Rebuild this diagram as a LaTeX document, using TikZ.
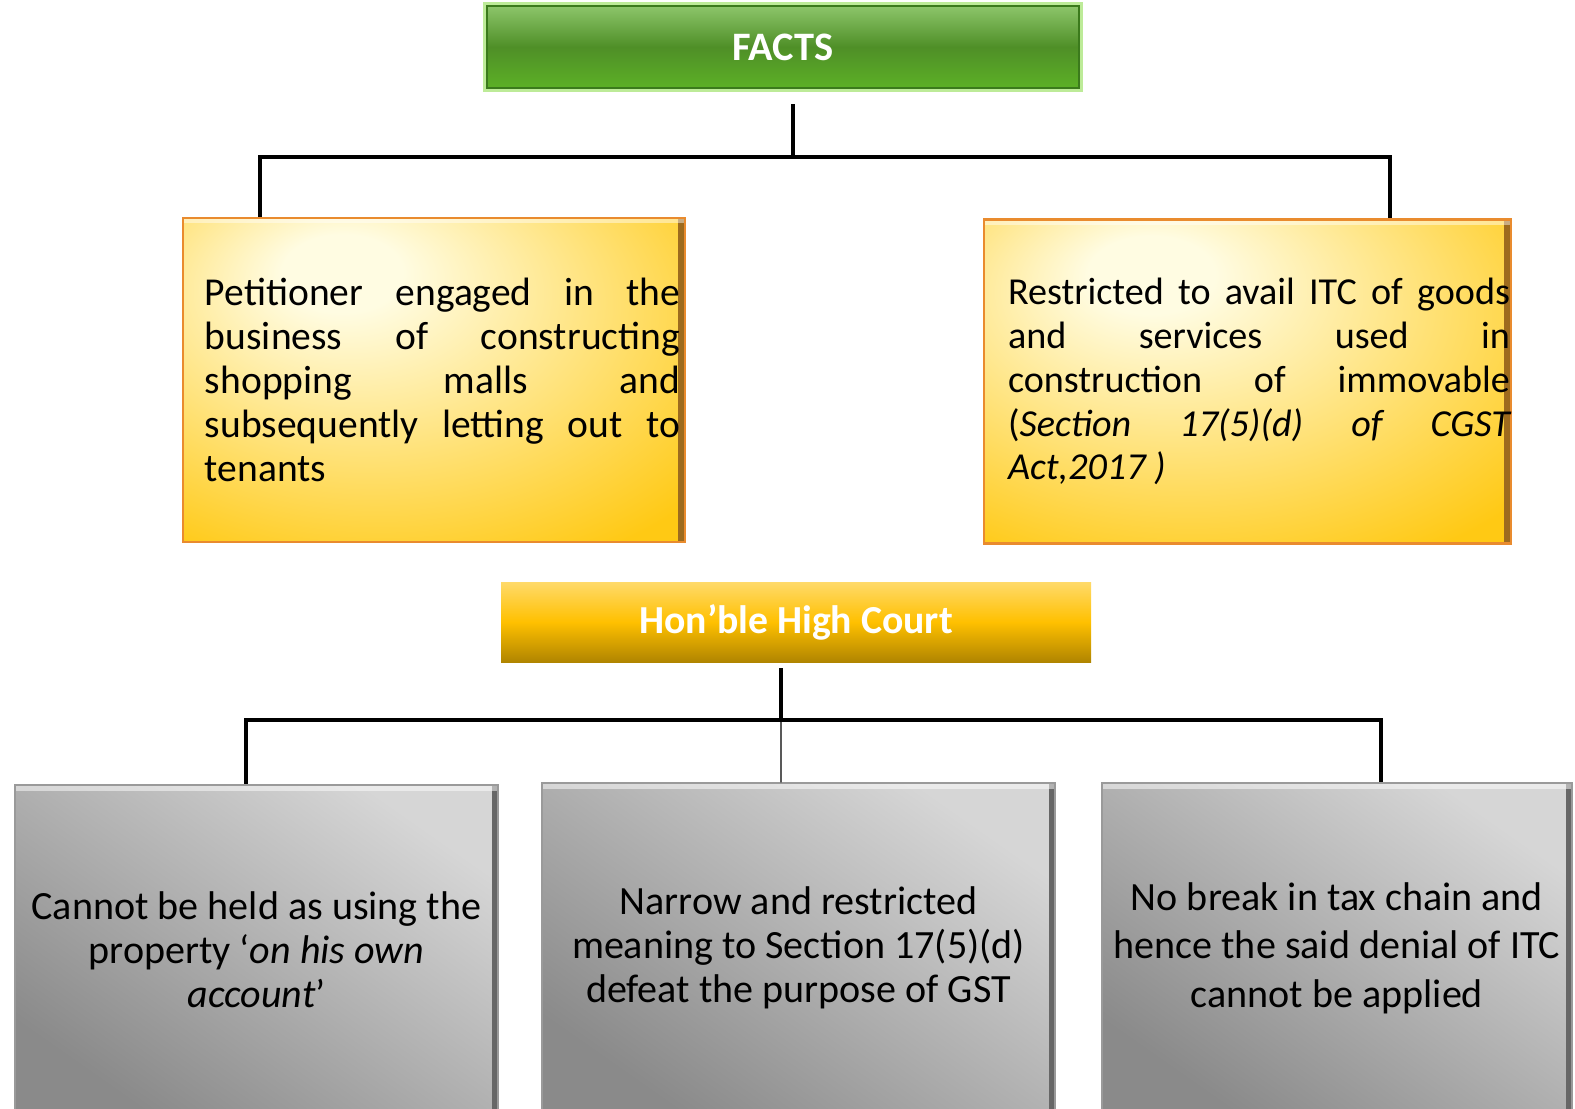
\documentclass[tikz,border=0pt]{standalone}
\usepackage{fontspec}
\setmainfont{Carlito}
\usetikzlibrary{positioning,calc}
\usepackage{xcolor}
\definecolor{gtop}{HTML}{8CC56A}
\definecolor{gmid}{HTML}{4F8F27}
\definecolor{gbot}{HTML}{5CB026}
\definecolor{gline}{HTML}{3B7A1C}
\definecolor{gglow}{HTML}{BDEB98}
\definecolor{ylight}{HTML}{FFFCE2}
\definecolor{ygold}{HTML}{FFC914}
\definecolor{yline}{HTML}{E98B2E}
\definecolor{yedge}{HTML}{9C6A1E}
\definecolor{ctop}{HTML}{FFDA6A}
\definecolor{cmid}{HTML}{FFC000}
\definecolor{cbot}{HTML}{B08500}
\definecolor{glight}{HTML}{D6D6D6}
\definecolor{gdark}{HTML}{8A8A8A}
\definecolor{gedge}{HTML}{9A9A9A}
\pgfdeclareradialshading{yglow}{\pgfpoint{-10bp}{18bp}}{%
  color(0bp)=(ylight); color(6bp)=(ylight);
  color(40bp)=(ygold); color(70bp)=(ygold)}
\newcommand{\nohyph}{\hyphenpenalty=10000\exhyphenpenalty=10000\tolerance=9999\relax}
% justified block pushed right inside its box
\newcommand{\facttext}[3]{\hspace*{#1}\parbox{#2}{\nohyph#3}}
\tikzset{
    headbox/.style={
        draw=#1,line width=1.2pt,
        preaction={draw=gglow,line width=4pt},
        top color=gtop,bottom color=gbot,middle color=gmid,
        text=white,font=\fontsize{23}{27}\selectfont\bfseries,
        minimum width=118.4mm,minimum height=16.4mm
    },
    headbox/.default=gline,
    factbox/.style={
        draw=yline,line width=1.4pt,shading=yglow,
        inner xsep=0.2mm,
        font=\fontsize{22.5}{25}\selectfont,
        minimum width=#1,minimum height=64.8mm,
        path picture={
            \shade[left color=ygold,right color=yedge]
            ([xshift=-1.4mm]path picture bounding box.north east)
            rectangle (path picture bounding box.south east);
            \fill[white,opacity=.45]
            (path picture bounding box.north west)
            rectangle ([yshift=-1mm]path picture bounding box.north east);}
    },
    courtbox/.style={
        top color=ctop,bottom color=cbot,middle color=cmid,
        text=white,font=\fontsize{22.6}{26}\selectfont\bfseries,
        minimum width=118mm,minimum height=16mm
    },
    findbox/.style={
        draw=gedge,line width=0.8pt,
        top color=glight,bottom color=gdark,shading angle=-35,
        align=center,font=\fontsize{22.8}{25}\selectfont,
        minimum width=#1,minimum height=66mm,
        path picture={
            \shade[left color=black!30,right color=black!60]
            ([xshift=-1.2mm]path picture bounding box.north east)
            rectangle (path picture bounding box.south east);
            \fill[white,opacity=.5]
            (path picture bounding box.north west)
            rectangle ([yshift=-1.2mm]path picture bounding box.north east);}
    },
    link/.style={line width=2.4pt,draw=black},
    thin link/.style={line width=0.8pt,draw=black}
}

\begin{document}
\begin{tikzpicture}[x=0.2mm,y=-0.2mm]
\useasboundingbox (0,0) rectangle (1575,1108);
\clip (0,0) rectangle (1575,1108);

\node[headbox](facts) at (783,47) {FACTS};

\node[factbox=100.4mm](petition) at (434,380)
{\facttext{3.4mm}{95mm}{Petitioner engaged in the\linebreak business of constructing\linebreak
shopping malls and\linebreak subsequently letting out to\linebreak tenants}};

\node[factbox=105.4mm,font=\fontsize{21.7}{25}\selectfont](restrict) at (1247.5,381.5)
{\facttext{4.6mm}{100.4mm}{Restricted to avail ITC of goods\linebreak and services used in\linebreak
construction of immovable\linebreak (\textit{Section 17(5)(d) of CGST\linebreak Act,2017 )}}};

\node[courtbox](court) at (796,622) {Hon’ble High Court};

\node[findbox=96.6mm](find1) at (256.5,950)
{Cannot be held as using the\\ property ‘\textit{on his own}\\ \textit{account}’};
\node[findbox=102.6mm](find2) at (798.5,948)
{Narrow and restricted\\ meaning to Section 17(5)(d)\\ defeat the purpose of GST};
\node[findbox=94mm,font=\fontsize{22.8}{27.5}\selectfont](find3) at (1337,948)
{No break in tax chain and\\ hence the said denial of ITC\\ cannot be applied};

% facts tree
\coordinate (fk1) at (793,157);
\draw[link] ([yshift=-3mm]facts.south -| fk1) -- (fk1);
\draw[link] (fk1) -| ([xshift=-34.8mm]petition.north);
\draw[link] (fk1) -| ([xshift=28.5mm]restrict.north);

% court tree
\coordinate (fk2) at (781,720);
\draw[link] ([yshift=-1.2mm]court.south -| fk2) -- (fk2);
\draw[link] (fk2) -| ([xshift=-2.1mm]find1.north);
\draw[link] (fk2) -| ([xshift=8.8mm]find3.north);
\draw[thin link] (fk2) -- ([xshift=-3.5mm]find2.north);

\end{tikzpicture}
\end{document}
